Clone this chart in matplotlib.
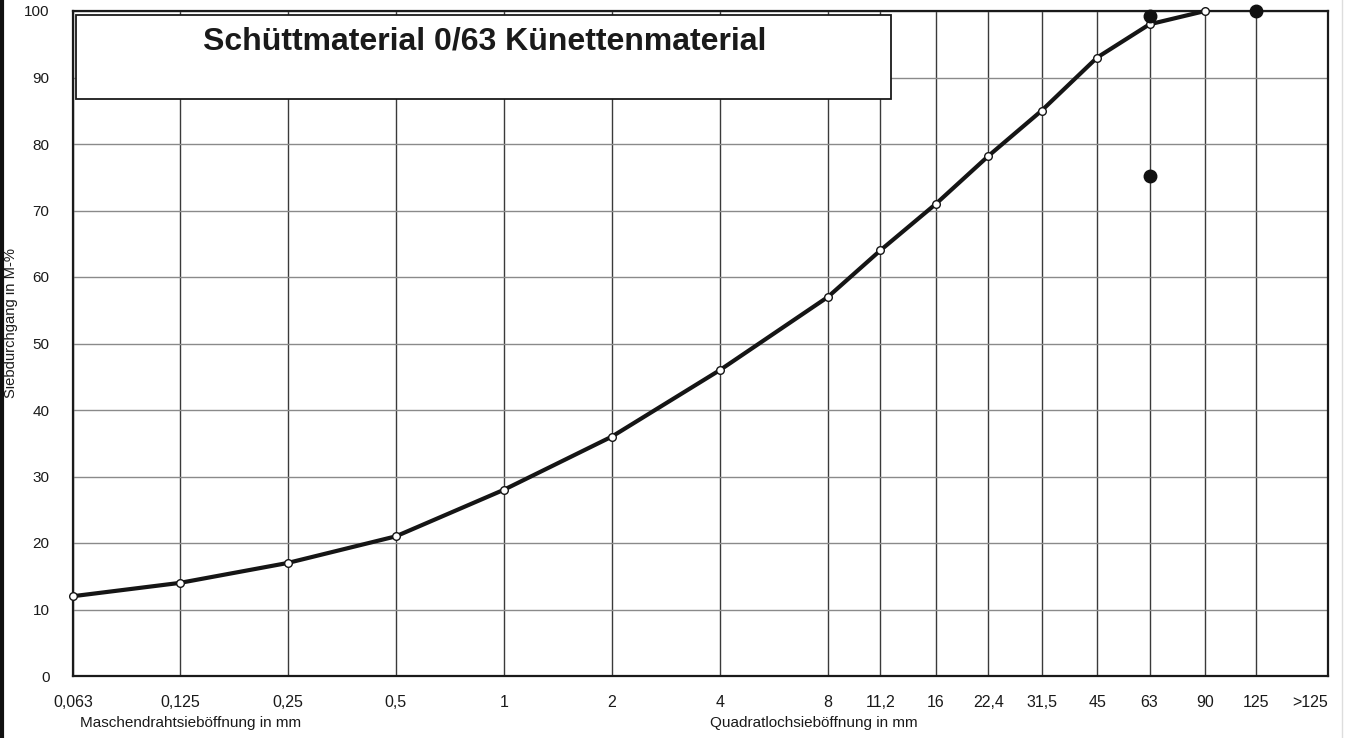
import matplotlib
matplotlib.use("Agg")
import matplotlib.pyplot as plt
from matplotlib.patches import Rectangle
from matplotlib.lines import Line2D

plt.rcParams['font.family'] = ['Liberation Sans', 'DejaVu Sans']

# sieve sizes (mm) and passing (M-%)
sizes = [0.063, 0.125, 0.25, 0.5, 1, 2, 4, 8, 11.2, 16, 22.4, 31.5, 45, 63, 90]
passing = [12, 14, 17, 21, 28, 36, 46, 57, 64, 71, 78.2, 85, 93, 98, 100]

# single black reference points
ref_x = [63, 63, 125]
ref_y = [99.3, 75.2, 100]

tick_vals = [0.063, 0.125, 0.25, 0.5, 1, 2, 4, 8, 11.2, 16, 22.4, 31.5, 45, 63, 90, 125]
tick_text = ['0,063', '0,125', '0,25', '0,5', '1', '2', '4', '8', '11,2', '16',
             '22,4', '31,5', '45', '63', '90', '125']
over_pos = 177
over_text = '>125'
y_ticks = [0, 10, 20, 30, 40, 50, 60, 70, 80, 90, 100]

W, H = 1346, 738
fig = plt.figure(figsize=(W / 100, H / 100), dpi=100)
ax = fig.add_axes([73 / W, 1 - 676 / H, (1328 - 73) / W, (676 - 11) / H])

ax.set_xscale('log')
ax.set_xlim(0.063, 198)
ax.set_ylim(0, 100)

# grid
for t in tick_vals:
	ax.axvline(t, color='#3a3a3a', lw=1.0, zorder=1)
for t in y_ticks:
	ax.axhline(t, color='#8a8a8a', lw=1.0, zorder=1)

ax.set_xticks(tick_vals + [over_pos])
ax.set_xticklabels(tick_text + [over_text])
ax.xaxis.set_minor_locator(matplotlib.ticker.NullLocator())
ax.set_yticks(y_ticks)
ax.tick_params(axis='both', length=0, labelsize=11, colors='#1a1a1a')
ax.tick_params(axis='x', pad=14, labelsize=11.5)
ax.tick_params(axis='y', pad=17)
for sp in ax.spines.values():
	sp.set_color('#1a1a1a')
	sp.set_linewidth(1.6)

# curve
ax.plot(sizes, passing, '-', color='#151515', lw=3, zorder=4, clip_on=False)
ax.plot(sizes, passing, 'o', ms=5.5, mfc='white', mec='#151515', mew=1.0,
	zorder=5, clip_on=False)
ax.plot(ref_x, ref_y, 'o', ms=9, color='#111111', zorder=6, clip_on=False)

# title box
ax.add_patch(Rectangle((0.0024, 0.868), 0.649, 0.126, transform=ax.transAxes,
	fc='white', ec='#1a1a1a', lw=1.3, zorder=3))
ax.text((485 - 73) / 1255, (676 - 41) / 665, 'Schüttmaterial 0/63 Künettenmaterial',
	transform=ax.transAxes, ha='center', va='center', fontsize=23, fontweight='bold',
	color='#1a1a1a', zorder=4)

# axis labels
fig.text(11 / W, 1 - 323 / H, 'Siebdurchgang in M-%', rotation=90, ha='center', va='center',
	fontsize=10.6, color='#1a1a1a')
fig.text(80 / W, 1 - 723 / H, 'Maschendrahtsieböffnung in mm', ha='left', va='center',
	fontsize=11, color='#1a1a1a')
fig.text(710 / W, 1 - 723 / H, 'Quadratlochsieböffnung in mm', ha='left', va='center',
	fontsize=11, color='#1a1a1a')

# scan frame at the left edge
fig.add_artist(Line2D([2 / W, 2 / W], [0, 1], transform=fig.transFigure, color='#111111', lw=3))
fig.add_artist(Line2D([1342 / W, 1342 / W], [0, 1], transform=fig.transFigure, color='#dddddd', lw=1))

fig.savefig('out.png', dpi=100)
